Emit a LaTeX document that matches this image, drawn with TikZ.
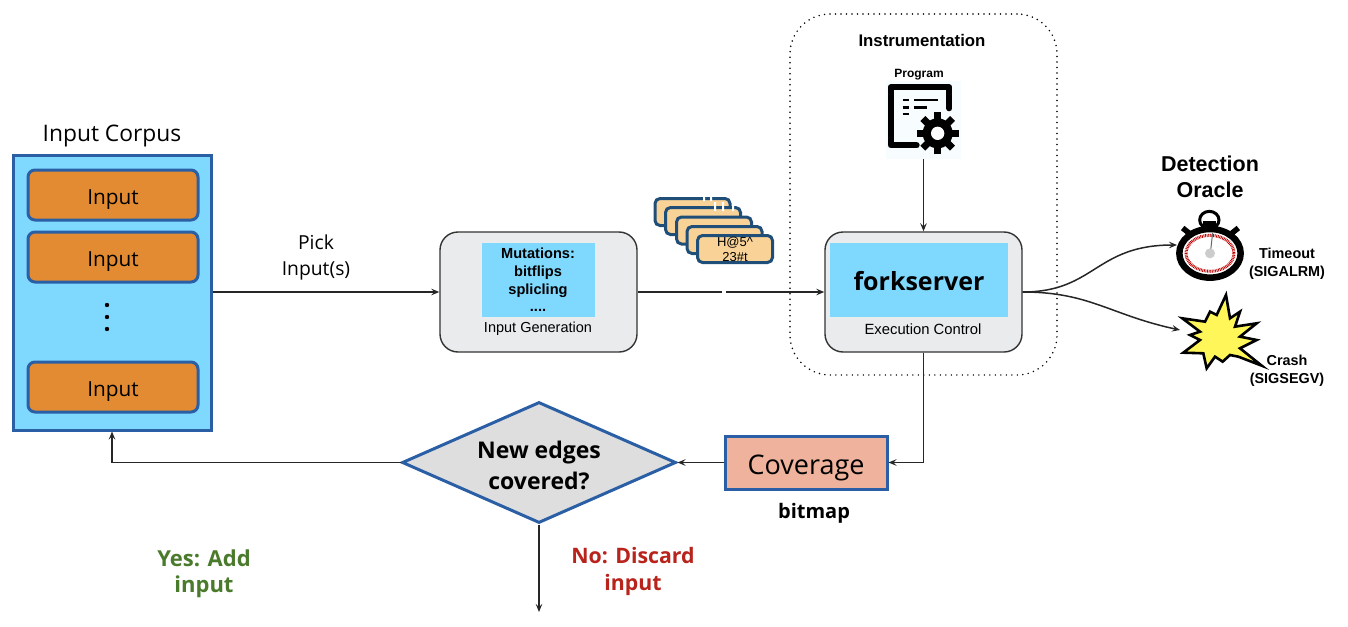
\documentclass[tikz,border=0pt]{standalone}
\usepackage{fontspec}
\setmainfont{Liberation Sans}
\newfontfamily\lucid{Open Sans}
\usetikzlibrary{arrows.meta,shapes.geometric,calc}
\definecolor{skyfill}{HTML}{7FD9FF}
\definecolor{blueedge}{HTML}{2A5FA5}
\definecolor{orangebox}{HTML}{E28B32}
\definecolor{greybox}{HTML}{E9EBEC}
\definecolor{cardfill}{HTML}{F8D296}
\definecolor{cardedge}{HTML}{1F4E79}
\definecolor{covfill}{HTML}{EFB29D}
\definecolor{yesgreen}{HTML}{4A7A2C}
\definecolor{nored}{HTML}{B8231B}
\tikzset{
  conn/.style={draw=black!85,line width=1.5pt,-{Stealth[length=8pt,width=6.5pt,inset=3pt]}},
  inputbox/.style={draw=blueedge,line width=3pt,fill=orangebox,rounded corners=7pt,minimum width=170pt,minimum height=50pt,inner sep=0pt,font=\lucid\fontsize{20.8}{24}\selectfont},
  stagebox/.style={draw=black!80,line width=1.4pt,fill=greybox,rounded corners=18pt,minimum width=197pt,minimum height=120pt,inner sep=0pt},
  card/.style={draw=cardedge,line width=3pt,fill=cardfill,rounded corners=5pt,minimum width=75pt,minimum height=27pt,inner sep=0pt,font=\fontsize{13}{15}\selectfont,align=center},
  lab/.style={inner sep=0pt,align=center},
  cyanpanel/.style={fill=skyfill,inner sep=0pt},
}
\begin{document}
\begin{tikzpicture}[x=1pt,y=-1pt]
\useasboundingbox (0,0) rectangle (1348,626);
% instrumentation region
\node[draw=black,line width=1.7pt,line cap=round,dash pattern=on 0pt off 5.5pt,rounded corners=40pt,minimum width=267pt,minimum height=361pt,inner sep=0pt] (instr) at (923.5,194.5) {};
\node[lab,font=\bfseries\fontsize{16.8}{18}\selectfont] (instrlab) at (922,40) {Instrumentation};
\node[lab,font=\bfseries\fontsize{12}{12}\selectfont] (proglab) at (919,75) {Program};
% corpus
\node[draw=blueedge,line width=3pt,fill=skyfill,minimum width=198pt,minimum height=275pt,inner sep=0pt] (corpus) at (112,292.5) {};
\node[lab,font=\lucid\fontsize{22.8}{24}\selectfont] (corpuslab) at (112,136) {Input Corpus};
\node[inputbox] (in1) at (113,195) {\raisebox{-9pt}[0pt][0pt]{Input}};
\node[inputbox] (in2) at (113,257) {\raisebox{-9pt}[0pt][0pt]{Input}};
\node[inputbox] (in3) at (113,387) {\raisebox{-9pt}[0pt][0pt]{Input}};
\fill[black] (107,305) circle (2.2) (107,317) circle (2.2) (107,329) circle (2.2);
% input generation
\node[stagebox] (gen) at (538.5,292) {};
\node[cyanpanel,minimum width=113pt,minimum height=74pt] (genpanel) at (538.5,280) {};
\node[lab,font=\bfseries\fontsize{14.6}{18}\selectfont] (mut) at (538,280) {Mutations:\\[-0.2pt]bitflips\\[-0.2pt]splicling\\[-0.2pt]....};
\node[lab,font=\fontsize{14.5}{16}\selectfont] (genlab) at (538,329) {Input Generation};
% forkserver
\node[stagebox] (fork) at (923.5,292) {};
\node[cyanpanel,minimum width=178pt,minimum height=74pt] (forkpanel) at (919,280) {};
\node[lab,font=\lucid\bfseries\fontsize{25}{30}\selectfont] (forklab) at (919,281) {forkserver};
\node[lab,font=\fontsize{14.8}{16}\selectfont] (forkctl) at (923,329) {Execution Control};
% program icon
\node[fill=black!3!cyan!3!white,minimum width=75pt,minimum height=78pt,inner sep=0pt] (prog) at (923.5,120) {};
\begin{scope}[shift={(870,60)},x=0.3333pt,y=-0.3333pt]
  \draw[line width=6pt,line join=round,line cap=round,black] (238,145)--(238,82)--(62,82)--(62,256)--(140,256);
  \draw[line width=2.8pt,black] (98,120)--(118,120) (132,120)--(205,120) (98,142)--(118,142) (132,142)--(170,142) (98,162)--(118,162);
  \foreach \a in {0,45,90,135}{\draw[line width=7pt,black] ($(203,220)+(\a:63)$)--($(203,220)+(\a+180:63)$);}
  \fill[black] (203,220) circle[radius=45];
  \fill[white] (203,220) circle[radius=20];
\end{scope}
% cards
\node[card] (c1) at (692.5,212) {};
\node[card] (c2) at (703,221) {};
\node[card] (c3) at (714,230.5) {};
\node[card] (c4) at (724.5,240) {};
\node[card] (c5) at (735,249) {H@5\textasciicircum\\23\#t};
\fill[white] (703,196) rectangle (705,201) (710,196) rectangle (712,201) (714,202) rectangle (716,211) (722,202) rectangle (724,211) (732,205) rectangle (734,211);
% oracle
\node[lab,font=\bfseries\fontsize{21.5}{26}\selectfont] (oracle) at (1210,177) {Detection\\Oracle};
\coordinate (watch) at (1177,245);
\coordinate (bang) at (1180,330);
\begin{scope}[shift={(1150,200)},x=0.3333pt,y=-0.3333pt]
  \draw[line width=3pt,black] (178,60) ellipse[x radius=29,y radius=26];
  \fill[black] (158,62) rectangle (198,84);
  \draw[line width=5.5pt,black] (118,100)--(98,84) (245,100)--(265,84);
  \draw[line width=6.5pt,black,fill=white] (180,160) ellipse[x radius=92,y radius=73];
  \draw[red!75!black,line width=3pt,dash pattern=on 0.8pt off 0.8pt] (180,160) ellipse[x radius=72,y radius=54];
  \draw[black!60,line width=1pt] (188,98)--(181,160);
  \fill[black!20] (180,160) circle[radius=15];
  \filldraw[fill=yellow!65!white,draw=black,line width=2.6pt,line join=miter]
    (228,285)--(240,355)--(270,335)--(255,380)--(320,370)--(270,410)--(320,420)--(270,445)--(335,497)--(265,470)--(240,465)--(218,485)--(195,470)--(170,505)--(160,460)--(100,458)--(150,420)--(120,405)--(150,395)--(97,355)--(165,365)--(180,335)--(200,345)--cycle;
\end{scope}
\node[lab,font=\bfseries\fontsize{14.4}{18}\selectfont] (tlab) at (1287,264) {Timeout\\(SIGALRM)};
\node[lab,font=\bfseries\fontsize{14.4}{18}\selectfont] (clab) at (1287,371) {Crash\\(SIGSEGV)};
% lower row
\node[draw=blueedge,line width=3pt,fill=covfill,minimum width=162pt,minimum height=53pt,inner sep=0pt,font=\lucid\fontsize{27}{32}\selectfont] (cov) at (806,462.5) {\raisebox{-11.5pt}[0pt][0pt]{Coverage}};
\node[lab,font=\lucid\bfseries\fontsize{20}{22}\selectfont] (bitmap) at (814,513) {bitmap};
\node[diamond,aspect=2.26,draw=blueedge,line width=3pt,fill=black!13,minimum width=274pt,minimum height=121pt,inner sep=0pt] (dec) at (539,462.5) {};
\node[lab,font=\lucid\bfseries\fontsize{23}{31}\selectfont] (declab) at (539,465) {New edges\\covered?};
\coordinate (sink) at (539,612);
\node[lab,text=yesgreen,font=\lucid\bfseries\fontsize{22}{26}\selectfont] (yes) at (204,574) {Yes: Add\\input};
\node[lab,text=nored,font=\lucid\bfseries\fontsize{21.3}{27}\selectfont] (no) at (633,571) {No: Discard\\input};
\node[lab,font=\lucid\fontsize{19.3}{26}\selectfont] (pick) at (316,257) {Pick\\Input(s)};
% connectors
\draw[conn] (corpus.east |- gen.west) -- (gen.west);
\draw[conn] (gen.east) -- (fork.west);
\fill[white] (722,291) rectangle (726,293);
\draw[conn] (prog.south) -- (fork.north -| prog.south);
\draw[conn] (fork.east) .. controls (1095,292) and (1095,245) .. (watch);
\draw[conn] (fork.east) .. controls (1090,292) and (1110,315) .. (bang);
\draw[conn] (fork.south) -- (cov.east -| fork.south) -- (cov.east);
\draw[conn] (cov.west) -- (dec.east);
\draw[conn] (dec.west) -- (corpus.south |- dec.west) -- (corpus.south);
\draw[conn] (dec.south) -- (sink);
\end{tikzpicture}
\end{document}
